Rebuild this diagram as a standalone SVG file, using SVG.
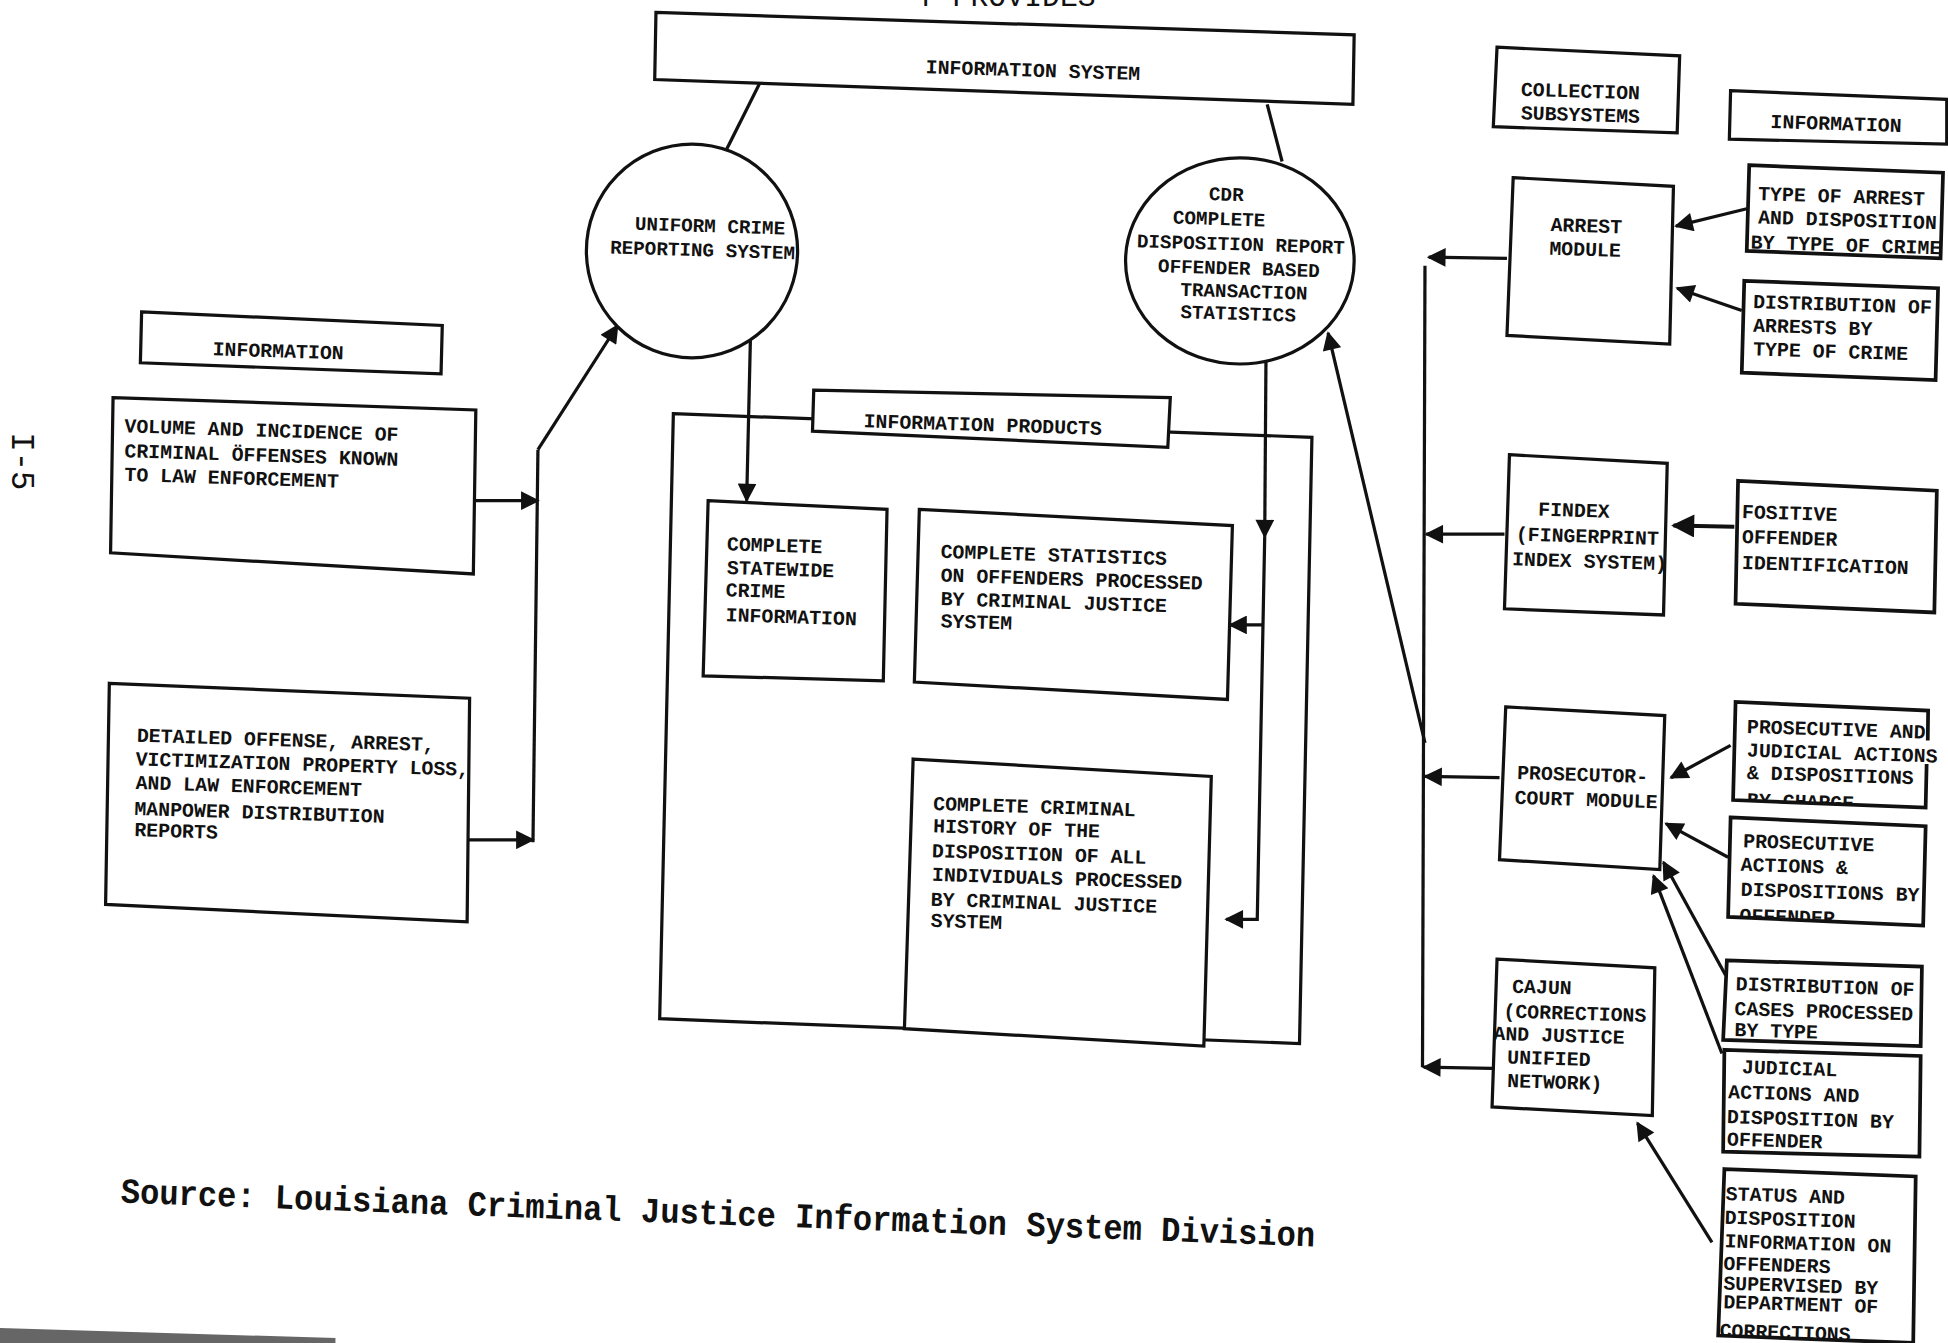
<svg xmlns="http://www.w3.org/2000/svg" width="1948" height="1343" viewBox="0 0 1948 1343">
<style>
.bx{fill:#fff;stroke:#111;stroke-width:2.6;stroke-linejoin:miter}
.bo{fill:none;stroke:#111;stroke-width:2.6}
.ib{fill:#fff;stroke:#111;stroke-width:3}
.c{fill:none;stroke:#111;stroke-width:2.6}
.ca{fill:none;stroke:#111;stroke-width:2.6;marker-end:url(#ah)}
.t{font-family:"Liberation Mono","Courier New",monospace;font-weight:bold;font-size:16px;fill:#111}
.tc{font-family:"Liberation Mono","Courier New",monospace;font-weight:bold;font-size:15.5px;fill:#111}
.src{font-family:"Liberation Mono","Courier New",monospace;font-weight:bold;font-size:24px;fill:#111}
</style>
<defs>
<marker id="ah" viewBox="0 0 10 10" refX="9" refY="5" markerWidth="6.6" markerHeight="5.8" orient="auto" markerUnits="strokeWidth"><path d="M0,0 L10,5 L0,10 z" fill="#111"/></marker>
<clipPath id="cpja"><polygon points="1390,560 1570,560 1570,652 1550,650 1395,644"/></clipPath>
<clipPath id="cpad"><polygon points="1393,658 1550,665 1548,745 1391,738"/></clipPath>
<clipPath id="cst"><polygon points="1380,941 1542,947 1540,1081 1380,1075"/></clipPath>
</defs>
<rect width="1948" height="1343" fill="#fff"/>
<g transform="scale(1.24235)">
<text x="738" y="5" style="font-family:'Liberation Mono',monospace;font-size:24px;fill:#111">Y PROVIDES</text>
<text x="348" y="-10" transform="rotate(90)" style="font-family:'Liberation Mono',monospace;font-size:26px;fill:#111">I-5</text>

<g id="connectors">
<line class="c" x1="612" y1="66" x2="585" y2="120"/>
<line class="c" x1="1020" y1="84" x2="1032" y2="130"/>
<line class="ca" x1="383" y1="403" x2="433" y2="403"/>
<line class="ca" x1="376" y1="676" x2="429" y2="676"/>
<line class="c" x1="429" y1="678" x2="433" y2="362"/>
<line class="ca" x1="433" y1="362" x2="497" y2="262"/>
<line class="ca" x1="604" y1="274" x2="601" y2="403"/>
<line class="ca" x1="1019" y1="291" x2="1018" y2="432"/>
<path class="ca" d="M1018,432 L1012,740 L987,740"/>
<line class="ca" x1="1016" y1="503" x2="990" y2="503"/>
<line class="ca" x1="1213" y1="208" x2="1150" y2="207"/>
<line class="c" x1="1147" y1="214" x2="1145" y2="859"/>
<line class="ca" x1="1211" y1="430" x2="1148" y2="430"/>
<line class="ca" x1="1207" y1="626" x2="1147" y2="625"/>
<line class="ca" x1="1201" y1="860" x2="1146" y2="859"/>
<line class="ca" x1="1147" y1="598" x2="1069" y2="268"/>
<line class="ca" x1="1406" y1="168" x2="1349" y2="182"/>
<line class="ca" x1="1402" y1="250" x2="1350" y2="232"/>
<line class="ca" x1="1396" y1="424" x2="1347" y2="423" style="stroke-width:3.2"/>
<line class="ca" x1="1393" y1="600" x2="1345" y2="626"/>
<line class="ca" x1="1391" y1="690" x2="1341" y2="663"/>
<line class="ca" x1="1389" y1="785" x2="1339" y2="694"/>
<line class="ca" x1="1386" y1="848" x2="1331" y2="705"/>
<line class="ca" x1="1378" y1="1000" x2="1318" y2="904"/>
</g>

<g id="info-system">
<polygon class="bx" points="528,10 1090,28 1089,84 527,64"/>
<text class="t" x="745" y="59" transform="rotate(1.8 745 59)">INFORMATION SYSTEM</text>
</g>
<g id="ucr">
<ellipse class="bx" cx="557" cy="202" rx="85" ry="86"/>
<text class="tc" x="511" y="185" transform="rotate(1.8 511 185)">UNIFORM CRIME</text>
<text class="tc" x="491" y="204" transform="rotate(1.8 491 204)">REPORTING SYSTEM</text>
</g>
<g id="cdr">
<ellipse class="bx" cx="998" cy="210" rx="92" ry="83"/>
<text class="tc" x="973" y="161" transform="rotate(1.8 973 161)">CDR</text>
<text class="tc" x="944" y="180" transform="rotate(1.8 944 180)">COMPLETE</text>
<text class="tc" x="915" y="199" transform="rotate(1.8 915 199)">DISPOSITION REPORT</text>
<text class="tc" x="932" y="219" transform="rotate(1.8 932 219)">OFFENDER BASED</text>
<text class="tc" x="950" y="238" transform="rotate(1.8 950 238)">TRANSACTION</text>
<text class="tc" x="950" y="256" transform="rotate(1.8 950 256)">STATISTICS</text>
</g>
<g id="info-left">
<polygon class="bx" points="114,251 356,262 355,301 113,292"/>
<text class="t" x="171" y="286" transform="rotate(1.8 171 286)">INFORMATION</text>
</g>
<g id="volume">
<polygon class="bx" points="91,320 383,330 381,462 89,445"/>
<text class="t" x="100" y="348" transform="rotate(1.8 100 348)">VOLUME AND INCIDENCE OF</text>
<text class="t" x="100" y="368" transform="rotate(1.8 100 368)">CRIMINAL ÖFFENSES KNOWN</text>
<text class="t" x="100" y="387" transform="rotate(1.8 100 387)">TO LAW ENFORCEMENT</text>
</g>
<g id="detailed">
<polygon class="bx" points="88,550 378,562 376,742 85,728"/>
<text class="t" x="110" y="597" transform="rotate(1.8 110 597)">DETAILED OFFENSE, ARREST,</text>
<text class="t" x="109" y="616" transform="rotate(1.8 109 616)">VICTIMIZATION PROPERTY LOSS,</text>
<text class="t" x="109" y="635" transform="rotate(1.8 109 635)">AND LAW ENFORCEMENT</text>
<text class="t" x="108" y="656" transform="rotate(1.8 108 656)">MANPOWER DISTRIBUTION</text>
<text class="t" x="108" y="673" transform="rotate(1.8 108 673)">REPORTS</text>
</g>
<g id="products">
<polygon class="bo" points="542,333 1056,352 1046,840 531,820"/>
<polygon class="bx" points="655,314 942,320 940,360 654,347"/>
<text class="t" x="695" y="344" transform="rotate(1.8 695 344)">INFORMATION PRODUCTS</text>
</g>
<g id="statewide">
<polygon class="bx" points="570,403 714,410 711,548 566,544"/>
<text class="t" x="585" y="443" transform="rotate(1.8 585 443)">COMPLETE</text>
<text class="t" x="585" y="462" transform="rotate(1.8 585 462)">STATEWIDE</text>
<text class="t" x="584" y="480" transform="rotate(1.8 584 480)">CRIME</text>
<text class="t" x="584" y="500" transform="rotate(1.8 584 500)">INFORMATION</text>
</g>
<g id="statistics">
<polygon class="bx" points="740,410 992,423 988,563 736,549"/>
<text class="t" x="757" y="449" transform="rotate(1.8 757 449)">COMPLETE STATISTICS</text>
<text class="t" x="757" y="468" transform="rotate(1.8 757 468)">ON OFFENDERS PROCESSED</text>
<text class="t" x="757" y="487" transform="rotate(1.8 757 487)">BY CRIMINAL JUSTICE</text>
<text class="t" x="757" y="505" transform="rotate(1.8 757 505)">SYSTEM</text>
</g>
<g id="history">
<polygon class="bx" points="735,611 975,625 969,842 728,828"/>
<text class="t" x="751" y="652" transform="rotate(1.8 751 652)">COMPLETE CRIMINAL</text>
<text class="t" x="751" y="670" transform="rotate(1.8 751 670)">HISTORY OF THE</text>
<text class="t" x="750" y="690" transform="rotate(1.8 750 690)">DISPOSITION OF ALL</text>
<text class="t" x="750" y="709" transform="rotate(1.8 750 709)">INDIVIDUALS PROCESSED</text>
<text class="t" x="749" y="729" transform="rotate(1.8 749 729)">BY CRIMINAL JUSTICE</text>
<text class="t" x="749" y="746" transform="rotate(1.8 749 746)">SYSTEM</text>
</g>
<g id="collection">
<polygon class="bx" points="1205,38 1352,45 1350,107 1202,102"/>
<text class="t" x="1224" y="77" transform="rotate(1.8 1224 77)">COLLECTION</text>
<text class="t" x="1224" y="96" transform="rotate(1.8 1224 96)">SUBSYSTEMS</text>
</g>
<g id="info-right">
<polygon class="bx" points="1393,73 1567,80 1567,116 1392,112"/>
<text class="t" x="1425" y="103" transform="rotate(1.8 1425 103)">INFORMATION</text>
</g>
<g id="arrest">
<polygon class="bx" points="1218,143 1347,150 1344,277 1213,270"/>
<text class="t" x="1248" y="186" transform="rotate(1.8 1248 186)">ARREST</text>
<text class="t" x="1247" y="205" transform="rotate(1.8 1247 205)">MODULE</text>
</g>
<g id="type-arrest">
<polygon class="ib" points="1408,133 1564,139 1562,208 1406,202"/>
<text class="t" x="1415" y="161" transform="rotate(1.8 1415 161)">TYPE OF ARREST</text>
<text class="t" x="1415" y="180" transform="rotate(1.8 1415 180)">AND DISPOSITION</text>
<text class="t" x="1409" y="200" transform="rotate(1.8 1409 200)">BY TYPE OF CRIME</text>
</g>
<g id="dist-arrests">
<polygon class="ib" points="1404,226 1560,232 1558,306 1402,300"/>
<text class="t" x="1411" y="248" transform="rotate(1.8 1411 248)">DISTRIBUTION OF</text>
<text class="t" x="1411" y="267" transform="rotate(1.8 1411 267)">ARRESTS BY</text>
<text class="t" x="1411" y="286" transform="rotate(1.8 1411 286)">TYPE OF CRIME</text>
</g>
<g id="findex">
<polygon class="bx" points="1215,366 1342,373 1339,495 1211,490"/>
<text class="t" x="1238" y="415" transform="rotate(1.8 1238 415)">FINDEX</text>
<text class="t" x="1220" y="435" transform="rotate(1.8 1220 435)">(FINGERPRINT</text>
<text class="t" x="1217" y="455" transform="rotate(1.8 1217 455)">INDEX SYSTEM)</text>
</g>
<g id="positive">
<polygon class="ib" points="1399,387 1559,395 1557,493 1397,486"/>
<text class="t" x="1402" y="417" transform="rotate(1.8 1402 417)">FOSITIVE</text>
<text class="t" x="1402" y="437" transform="rotate(1.8 1402 437)">OFFENDER</text>
<text class="t" x="1402" y="458" transform="rotate(1.8 1402 458)">IDENTIFICATION</text>
</g>
<g id="prosecutor-court">
<polygon class="bx" points="1212,569 1340,576 1336,700 1207,692"/>
<text class="t" x="1221" y="627" transform="rotate(1.8 1221 627)">PROSECUTOR-</text>
<text class="t" x="1219" y="647" transform="rotate(1.8 1219 647)">COURT MODULE</text>
</g>
<g id="pros-charge">
<polygon points="1397,565 1552,572 1550,650 1395,644" fill="#fff"/>
<path d="M1551.7,596 L1552,572 L1397,565 L1395,644 L1550,650 L1550.8,615" fill="none" stroke="#111" stroke-width="3"/>
<g clip-path="url(#cpja)">
<text class="t" x="1406" y="590" transform="rotate(1.8 1406 590)">PROSECUTIVE AND</text>
<text class="t" x="1406" y="609" transform="rotate(1.8 1406 609)">JUDICIAL ACTIONS</text>
<text class="t" x="1406" y="627" transform="rotate(1.8 1406 627)">&amp; DISPOSITIONS</text>
<text class="t" x="1406" y="649" transform="rotate(1.8 1406 649)">BY CHARGE</text>
</g>
</g>
<g id="pros-offender">
<polygon class="ib" points="1393,658 1550,665 1548,745 1391,738"/>
<g clip-path="url(#cpad)">
<text class="t" x="1403" y="682" transform="rotate(1.8 1403 682)">PROSECUTIVE</text>
<text class="t" x="1401" y="701" transform="rotate(1.8 1401 701)">ACTIONS &amp;</text>
<text class="t" x="1401" y="721" transform="rotate(1.8 1401 721)">DISPOSITIONS BY</text>
<text class="t" x="1400" y="742" transform="rotate(1.8 1400 742)">OFFENDER</text>
</g>
</g>
<g id="dist-cases">
<polygon class="ib" points="1390,773 1547,778 1546,842 1387,837"/>
<text class="t" x="1397" y="797" transform="rotate(1.8 1397 797)">DISTRIBUTION OF</text>
<text class="t" x="1396" y="817" transform="rotate(1.8 1396 817)">CASES PROCESSED</text>
<text class="t" x="1396" y="834" transform="rotate(1.8 1396 834)">BY TYPE</text>
</g>
<g id="judicial">
<polygon class="ib" points="1388,845 1546,850 1545,931 1387,927"/>
<text class="t" x="1402" y="864" transform="rotate(1.8 1402 864)">JUDICIAL</text>
<text class="t" x="1391" y="884" transform="rotate(1.8 1391 884)">ACTIONS AND</text>
<text class="t" x="1390" y="904" transform="rotate(1.8 1390 904)">DISPOSITION BY</text>
<text class="t" x="1390" y="922" transform="rotate(1.8 1390 922)">OFFENDER</text>
</g>
<g id="cajun">
<polygon class="bx" points="1205,772 1332,779 1330,898 1201,891"/>
<text class="t" x="1217" y="799" transform="rotate(1.8 1217 799)">CAJUN</text>
<text class="t" x="1210" y="819" transform="rotate(1.8 1210 819)">(CORRECTIONS</text>
<text class="t" x="1202" y="837" transform="rotate(1.8 1202 837)">AND JUSTICE</text>
<text class="t" x="1213" y="856" transform="rotate(1.8 1213 856)">UNIFIED</text>
<text class="t" x="1213" y="875" transform="rotate(1.8 1213 875)">NETWORK)</text>
</g>
<g id="status">
<polygon class="ib" points="1388,941 1542,947 1540,1081 1383,1075"/>
<g clip-path="url(#cst)">
<text class="t" x="1389" y="966" transform="rotate(1.8 1389 966)">STATUS AND</text>
<text class="t" x="1388" y="985" transform="rotate(1.8 1388 985)">DISPOSITION</text>
<text class="t" x="1388" y="1004" transform="rotate(1.8 1388 1004)">INFORMATION ON</text>
<text class="t" x="1387" y="1022" transform="rotate(1.8 1387 1022)">OFFENDERS</text>
<text class="t" x="1387" y="1038" transform="rotate(1.8 1387 1038)">SUPERVISED BY</text>
<text class="t" x="1387" y="1053" transform="rotate(1.8 1387 1053)">DEPARTMENT OF</text>
<text class="t" x="1384" y="1076" transform="rotate(1.8 1384 1076)">CORRECTIONS</text>
</g>
</g>
<g transform="rotate(2.1 97 968) translate(97 968) scale(1 1.18) translate(-97 -968)">
<text class="src" x="97" y="968" textLength="962" lengthAdjust="spacingAndGlyphs">Source:  Louisiana Criminal Justice Information System Division</text>
</g>
<polygon points="0,1069 270,1077 270,1081 0,1081" fill="#666"/>
</g>
</svg>
